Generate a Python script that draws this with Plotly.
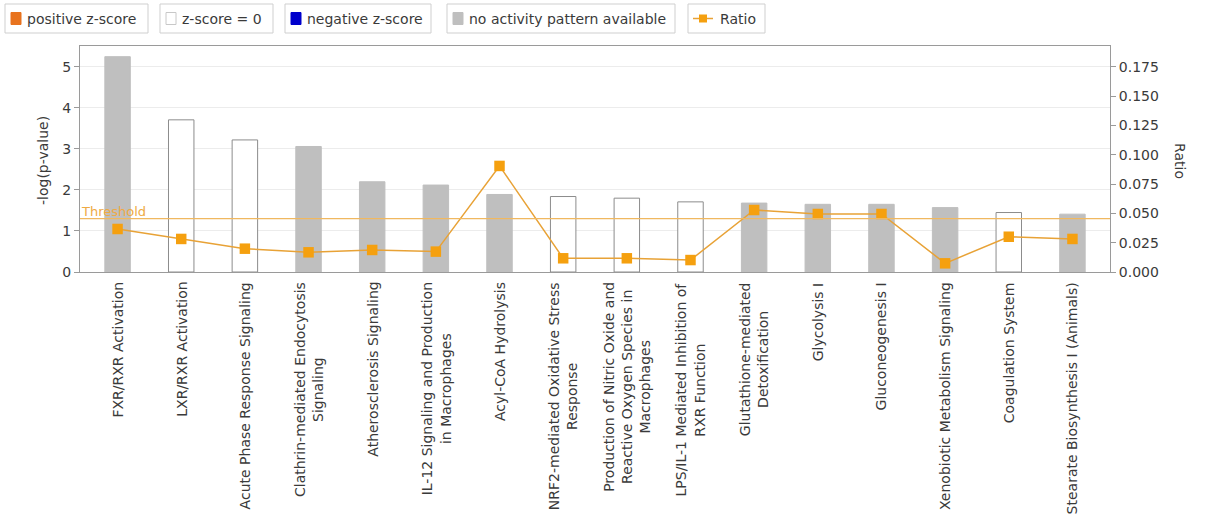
import plotly.graph_objects as go

# Canonical pathways, -log(p-value) per pathway, and overlap ratio
PATHWAYS = [
    "FXR/RXR Activation",
    "LXR/RXR Activation",
    "Acute Phase Response Signaling",
    "Clathrin-mediated Endocytosis\nSignaling",
    "Atherosclerosis Signaling",
    "IL-12 Signaling and Production\nin Macrophages",
    "Acyl-CoA Hydrolysis",
    "NRF2-mediated Oxidative Stress\nResponse",
    "Production of Nitric Oxide and\nReactive Oxygen Species in\nMacrophages",
    "LPS/IL-1 Mediated Inhibition of\nRXR Function",
    "Glutathione-mediated\nDetoxification",
    "Glycolysis I",
    "Gluconeogenesis I",
    "Xenobiotic Metabolism Signaling",
    "Coagulation System",
    "Stearate Biosynthesis I (Animals)",
]
NEG_LOG_P = [5.25, 3.71, 3.22, 3.06, 2.20, 2.12, 1.89, 1.84, 1.80, 1.71,
             1.68, 1.65, 1.65, 1.57, 1.45, 1.41]
RATIO = [0.0367, 0.0282, 0.0199, 0.0168, 0.0188, 0.0174, 0.0905, 0.0117,
         0.0117, 0.0102, 0.0529, 0.0495, 0.0495, 0.0074, 0.0301, 0.0282]
Z_STATUS = ["none", "zero", "zero", "none", "none", "none", "none", "zero",
            "zero", "zero", "none", "none", "none", "none", "zero", "none"]
THRESHOLD = 1.301  # -log10(0.05)

LEFT_TICKS = [0, 1, 2, 3, 4, 5]
RIGHT_TICKS = [0.0, 0.025, 0.05, 0.075, 0.1, 0.125, 0.15, 0.175]

LEGEND_LABELS = ["positive z-score", "z-score = 0", "negative z-score",
                 "no activity pattern available", "Ratio"]

# styling
FONT = "DejaVu Sans"
GRAY = "#bfbfbf"
ORANGE_POS = "#e8731e"
BLUE_NEG = "#0000cc"
RATIO_LINE = "#e8a236"
RATIO_MARK = "#f5a00f"
THRESH_COLOR = "#f0b860"
THRESH_TEXT = "#eeaa44"
AXIS_COLOR = "#9a9a9a"
TEXT_COLOR = "#3a3a3a"

STATUS_FILL = {"pos": ORANGE_POS, "zero": "#ffffff", "neg": BLUE_NEG, "none": GRAY}
STATUS_LINE = {"pos": ORANGE_POS, "zero": "#8c8c8c", "neg": BLUE_NEG, "none": GRAY}

W, H = 1208, 517
L, R, T, B = 80, 98, 46, 245
PW, PH = W - L - R, H - T - B

Y_MAX = 5.51
Y2_MAX = Y_MAX * 0.175 / 5


def px(x):
    return (x - L) / PW


def py(y):
    return (H - B - y) / PH


names = [p.replace("\n", " ") for p in PATHWAYS]

fig = go.Figure()

fig.add_trace(go.Bar(
    x=names, y=NEG_LOG_P, width=0.4,
    marker=dict(color=[STATUS_FILL[s] for s in Z_STATUS],
                line=dict(color=[STATUS_LINE[s] for s in Z_STATUS], width=1)),
    showlegend=False, hoverinfo="x+y",
))

fig.add_trace(go.Scatter(
    x=names, y=RATIO, yaxis="y2", mode="lines+markers",
    line=dict(color=RATIO_LINE, width=1.5),
    marker=dict(symbol="square", size=10.5, color=RATIO_MARK,
                line=dict(color="#f0a52a", width=0)),
    showlegend=False,
))

shapes = []
annotations = []

# significance threshold
shapes.append(dict(type="line", xref="paper", yref="y", x0=0, x1=1,
                   y0=THRESHOLD, y1=THRESHOLD,
                   line=dict(color=THRESH_COLOR, width=1.2), layer="above"))
annotations.append(dict(text="Threshold", xref="paper", yref="y", x=0,
                        y=THRESHOLD, xanchor="left", yanchor="bottom",
                        showarrow=False, borderpad=0, xshift=0, yshift=-1,
                        font=dict(family=FONT, size=13, color=THRESH_TEXT)))

# category labels, rotated and centered under each bar
for nm, lbl in zip(names, PATHWAYS):
    annotations.append(dict(text=lbl.replace("\n", "<br>"), x=nm, y=0,
                            xref="x", yref="y", textangle=-90,
                            xanchor="center", yanchor="top", yshift=-9,
                            align="center", showarrow=False, borderpad=0,
                            font=dict(family=FONT, size=14, color=TEXT_COLOR)))

# axis titles
annotations.append(dict(text="-log(p-value)", xref="paper", yref="paper",
                        x=px(43), y=py(161), textangle=-90, showarrow=False,
                        xanchor="center", yanchor="middle",
                        font=dict(family=FONT, size=14, color=TEXT_COLOR)))
annotations.append(dict(text="Ratio", xref="paper", yref="paper",
                        x=px(1180), y=py(161), textangle=90, showarrow=False,
                        xanchor="center", yanchor="middle",
                        font=dict(family=FONT, size=14, color=TEXT_COLOR)))

# legend row: boxed items across the top
LEGEND_BOXES = [(5, 148), (160, 273), (285, 431), (447, 675), (688, 765)]
LEG_TOP, LEG_BOT, LEG_MID = 4, 33, 18.5
legend_swatch = [("pos", ORANGE_POS), ("zero", "#ffffff"), ("neg", BLUE_NEG),
                 ("none", GRAY), ("ratio", RATIO_MARK)]
for (x0, x1), label, (kind, col) in zip(LEGEND_BOXES, LEGEND_LABELS, legend_swatch):
    shapes.append(dict(type="rect", xref="paper", yref="paper",
                       x0=px(x0), x1=px(x1), y0=py(LEG_BOT), y1=py(LEG_TOP),
                       line=dict(color="#cfcfcf", width=1), fillcolor="white"))
    if kind == "ratio":
        sx = x0 + 5
        shapes.append(dict(type="line", xref="paper", yref="paper",
                           x0=px(sx), x1=px(sx + 20), y0=py(LEG_MID), y1=py(LEG_MID),
                           line=dict(color=RATIO_LINE, width=1.5)))
        shapes.append(dict(type="rect", xref="paper", yref="paper",
                           x0=px(sx + 6), x1=px(sx + 14), y0=py(LEG_MID + 4),
                           y1=py(LEG_MID - 4), line=dict(width=0),
                           fillcolor=RATIO_MARK))
        tx = sx + 26
    else:
        sx = x0 + 6
        shapes.append(dict(type="rect", xref="paper", yref="paper",
                           x0=px(sx), x1=px(sx + 10), y0=py(LEG_MID + 6),
                           y1=py(LEG_MID - 6),
                           line=dict(color="#c8c8c8" if kind == "zero" else col,
                                     width=1),
                           fillcolor=col))
        tx = sx + 15
    annotations.append(dict(text=label, xref="paper", yref="paper",
                            x=px(tx), y=py(LEG_MID), xanchor="left",
                            yanchor="middle", showarrow=False, borderpad=0,
                            font=dict(family=FONT, size=14, color=TEXT_COLOR)))

fig.update_layout(
    width=W, height=H,
    margin=dict(l=L, r=R, t=T, b=B, pad=0),
    paper_bgcolor="white", plot_bgcolor="white",
    font=dict(family=FONT, size=14, color=TEXT_COLOR),
    showlegend=False,
    bargap=0.6,
    xaxis=dict(type="category", categoryorder="array", categoryarray=names,
               range=[-0.59, len(names) - 0.41], showticklabels=False,
               showline=True, linecolor=AXIS_COLOR, linewidth=1, mirror=True,
               showgrid=False, ticks="", zeroline=False, fixedrange=True),
    yaxis=dict(range=[0, Y_MAX], tickvals=LEFT_TICKS, ticks="outside",
               ticklen=5, tickcolor=AXIS_COLOR, showline=True,
               linecolor=AXIS_COLOR, linewidth=1, showgrid=True,
               gridcolor="#ececec", gridwidth=1, zeroline=False,
               tickfont=dict(family=FONT, size=14, color=TEXT_COLOR)),
    yaxis2=dict(range=[0, Y2_MAX], tickvals=RIGHT_TICKS, tickformat=".3f",
                overlaying="y", side="right", ticks="outside", ticklen=5,
                tickcolor=AXIS_COLOR, showline=True, linecolor=AXIS_COLOR,
                linewidth=1, showgrid=False, zeroline=False,
                tickfont=dict(family=FONT, size=14, color=TEXT_COLOR)),
    shapes=shapes,
    annotations=annotations,
)

fig.write_html("out.html")
